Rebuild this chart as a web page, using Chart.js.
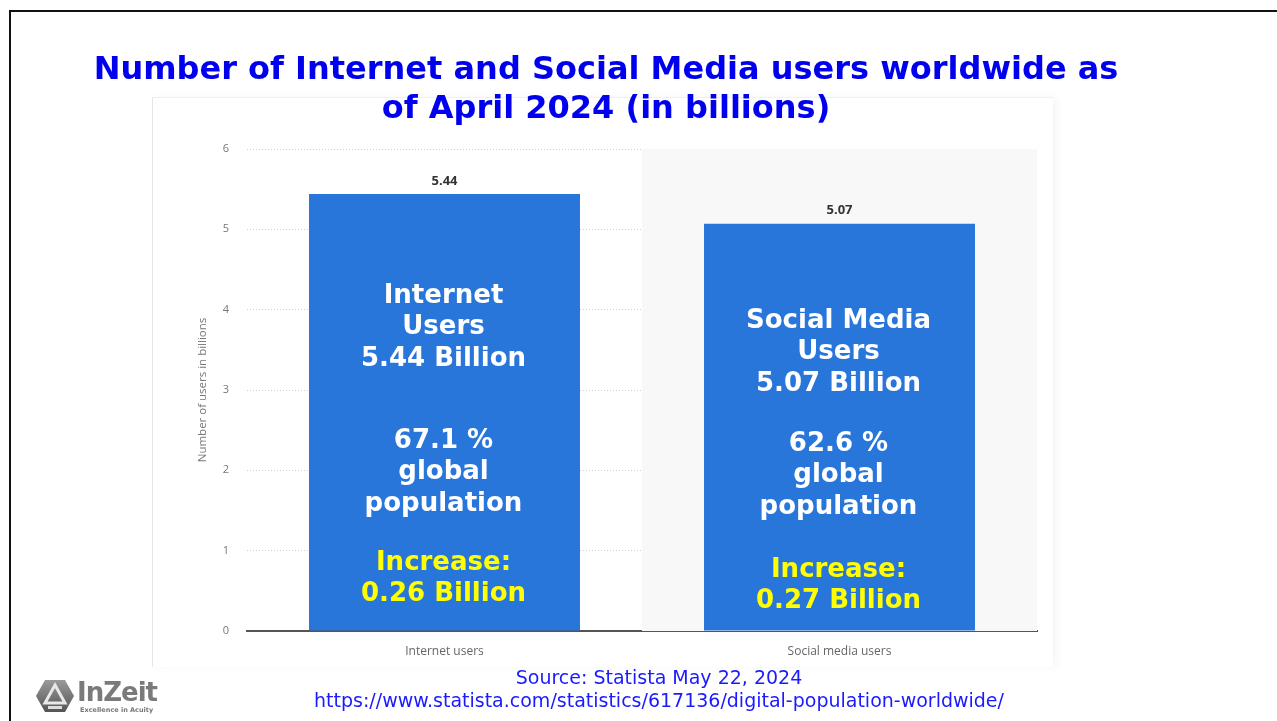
<!DOCTYPE html>
<html>
<head>
<meta charset="utf-8">
<script src="https://cdn.jsdelivr.net/npm/chart.js@4/dist/chart.umd.min.js"></script>
<style>
  html, body { margin: 0; padding: 0; background: #fff; }
  body { width: 1277px; height: 721px; position: relative; overflow: hidden; font-family: "DejaVu Sans", Verdana, sans-serif; }
  .frame { position: absolute; left: 9px; top: 10px; width: 1400px; height: 800px; border-left: 2px solid #111; border-top: 2px solid #111; }
  .panel { position: absolute; left: 152px; top: 97px; width: 900px; height: 569px; background: #fff;
           border-left: 1px solid #e6e6e6; border-top: 1px solid #f0f0f0; box-shadow: 4px 0 8px rgba(0,0,0,0.04); }
  #wrap { position: absolute; left: 0; top: 0; width: 1277px; height: 721px; }
  .title { position: absolute; left: 0; width: 1212px; top: 49px; text-align: center; color: #0000ee;
           font: bold 32px "DejaVu Sans", Verdana, sans-serif; line-height: 39px; }
  .source { position: absolute; left: 0; width: 1318px; top: 666px; text-align: center; color: #1a1aff;
            font: 19px "DejaVu Sans", Verdana, sans-serif; line-height: 23px; }
  .logo { position: absolute; left: 35px; top: 677px; width: 130px; height: 40px; }
  .logo .name { position: absolute; left: 42px; top: 0px; font: bold 26px "DejaVu Sans", sans-serif; color: #7a7a7a; letter-spacing: -1px; }
  .logo .tag { position: absolute; left: 45px; top: 29px; font: bold 6.5px "DejaVu Sans", sans-serif; color: #777; white-space: nowrap; }
</style>
</head>
<body>
<div class="frame"></div>
<div class="panel"></div>
<div id="wrap"><canvas id="chart" width="1277" height="721"></canvas></div>
<div class="title">Number of Internet and Social Media users worldwide as<br>of April 2024 (in billions)</div>
<div class="source">Source: Statista May 22, 2024<br>https://www.statista.com/statistics/617136/digital-population-worldwide/</div>
<div class="logo">
  <svg width="40" height="34" viewBox="0 0 40 34" style="position:absolute;left:0;top:2px">
    <defs><linearGradient id="g" x1="0" y1="0" x2="0" y2="1"><stop offset="0" stop-color="#9a9a9a"/><stop offset="1" stop-color="#555"/></linearGradient></defs>
    <polygon points="10,1 30,1 39,17 30,33 10,33 1,17" fill="url(#g)"/>
    <polygon points="20,6 30,24 10,24" fill="none" stroke="#e8e8e8" stroke-width="3"/>
    <rect x="13" y="27" width="14" height="3" fill="#ddd"/>
  </svg>
  <div class="name">InZeit</div>
  <div class="tag">Excellence in Acuity</div>
</div>
<script>
// Users worldwide, April 2024 (billions)
const categories = ["Internet users", "Social media users"];
const users = [5.44, 5.07];
const globalShare = [67.1, 62.6];
const increase = [0.26, 0.27];
const heading = [["Internet", "Users"], ["Social Media", "Users"]];
const yTicks = [0, 1, 2, 3, 4, 5, 6];

// light highlight behind the second category column
const columnShade = {
  id: "columnShade",
  beforeDatasetsDraw(chart) {
    const { ctx, chartArea, scales } = chart;
    const x = scales.x;
    const half = (chartArea.right - chartArea.left) / categories.length / 2;
    const cx = x.getPixelForValue(1);
    ctx.save();
    ctx.fillStyle = "#f8f8f8";
    ctx.fillRect(cx - half, chartArea.top, half * 2, chartArea.bottom - chartArea.top);
    ctx.restore();
  }
};

// value labels above bars and the annotation text inside them
const barText = {
  id: "barText",
  afterDatasetsDraw(chart, args, opts) {
    const { ctx } = chart;
    const meta = chart.getDatasetMeta(0);
    ctx.save();
    ctx.textAlign = "center";
    ctx.textBaseline = "middle";
    meta.data.forEach((bar, i) => {
      ctx.font = "bold 13px 'Open Sans', 'DejaVu Sans', sans-serif";
      ctx.fillStyle = "#333";
      ctx.fillText(users[i].toFixed(2), bar.x, bar.y - 13);

      const blocks = [
        { lines: [...heading[i], users[i].toFixed(2) + " Billion"], color: "#ffffff" },
        { lines: [globalShare[i].toFixed(1) + " %", "global", "population"], color: "#ffffff" },
        { lines: ["Increase:", increase[i].toFixed(2) + " Billion"], color: "#ffff00" }
      ];
      ctx.font = "bold 26px 'DejaVu Sans', Verdana, sans-serif";
      blocks.forEach((b, k) => {
        ctx.fillStyle = b.color;
        b.lines.forEach((t, j) => {
          ctx.fillText(t, bar.x - 1, opts.starts[i][k] + j * opts.gap);
        });
      });
    });
    ctx.restore();
  }
};

new Chart(document.getElementById("chart"), {
  type: "bar",
  data: {
    labels: categories,
    datasets: [{
      data: users,
      backgroundColor: "#2976da",
      borderWidth: 0,
      categoryPercentage: 0.686,
      barPercentage: 1
    }]
  },
  options: {
    responsive: false,
    animation: false,
    events: [],
    layout: { padding: { left: 180, right: 240, top: 149, bottom: 50 } },
    plugins: {
      legend: { display: false },
      tooltip: { enabled: false },
      barText: { starts: [[296, 441, 563], [321, 444, 570]], gap: 31.5 }
    },
    scales: {
      x: {
        grid: { display: false, drawTicks: false },
        border: { display: true, color: "#555", width: 2 },
        ticks: { color: "#666", padding: 13, font: { family: "'Open Sans', sans-serif", size: 12 } },
        afterFit(s) { s.height = 40; }
      },
      y: {
        min: 0, max: 6,
        afterBuildTicks(s) { s.ticks = yTicks.map(v => ({ value: v })); },
        grid: { color: "#cfcfcf", lineWidth: 1, drawTicks: false },
        border: { display: false, dash: [1, 2] },
        ticks: { color: "#777", padding: 18, font: { family: "'Open Sans', sans-serif", size: 11 } },
        title: {
          display: true, text: "Number of users in billions", color: "#777",
          padding: { top: 16, bottom: 0 },
          font: { family: "'Open Sans', sans-serif", size: 11.5 }
        },
        afterFit(s) { s.width = 67; }
      }
    }
  },
  plugins: [columnShade, barText]
});
</script>
</body>
</html>
